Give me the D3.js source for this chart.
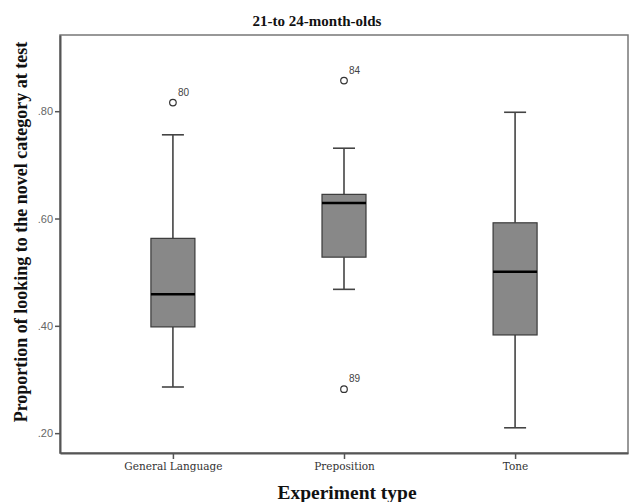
<!DOCTYPE html>
<html>
<head>
<meta charset="utf-8">
<script src="https://cdn.jsdelivr.net/npm/d3@7"></script>
<style>
  body { margin: 0; background: #fff; }
</style>
</head>
<body>
<div id="grafico"></div>
<script>
// values
const categories  = ['General Language', 'Preposition', 'Tone'];
const whiskerLow  = [0.286, 0.468, 0.210];
const q1          = [0.398, 0.528, 0.383];
const medians     = [0.459, 0.629, 0.501];
const q3          = [0.563, 0.645, 0.592];
const whiskerHigh = [0.756, 0.731, 0.798];
const outlierCat  = ['General Language', 'Preposition', 'Preposition'];
const outlierVal  = [0.816, 0.857, 0.282];
const outlierId   = ['80', '84', '89'];
const yTicks      = [0.2, 0.4, 0.6, 0.8];

const margin = { top: 35, left: 60, right: 1, bottom: 49 };
const width  = 629 - margin.left - margin.right;
const height = 502 - margin.top - margin.bottom;

const svg = d3.select('#grafico')
              .append('svg')
              .attr('width', 629)
              .attr('height', 502);

const g = svg.append('g')
             .attr('transform', `translate(${margin.left}, ${margin.top})`);

const xScale = d3.scalePoint()
                 .domain(categories)
                 .range([0, width])
                 .padding(0.66);

const yScale = d3.scaleLinear()
                 .domain([0.163, 0.942])
                 .range([height, 0]);

// frame
g.append('rect')
 .attr('width', width)
 .attr('height', height)
 .attr('fill', 'none')
 .attr('stroke', '#777')
 .attr('stroke-width', 1.5);

const yAxis = g.append('g')
 .call(d3.axisLeft(yScale).tickValues(yTicks).tickSize(5).tickSizeOuter(0).tickPadding(2)
        .tickFormat(d => d3.format('.2f')(d).replace(/^0/, '')));
yAxis.select('.domain').attr('stroke', '#555').attr('stroke-width', 2);
yAxis.selectAll('.tick line').attr('stroke', '#555').attr('stroke-width', 1.5);
yAxis.selectAll('.tick text')
     .attr('fill', '#666')
     .attr('font-family', 'Liberation Sans, Arial, sans-serif')
     .attr('font-size', '11px');

const xAxis = g.append('g')
 .attr('transform', `translate(0, ${height})`)
 .call(d3.axisBottom(xScale).tickSize(6).tickSizeOuter(0).tickPadding(4));
xAxis.select('.domain').attr('stroke', '#555').attr('stroke-width', 2);
xAxis.selectAll('.tick line').attr('stroke', '#555').attr('stroke-width', 1.5);
xAxis.selectAll('.tick text')
     .attr('fill', '#333')
     .attr('font-family', 'DejaVu Serif, serif')
     .attr('font-size', '10.5px');

const boxes = categories.map((c, i) => ({
  cat: c, lo: whiskerLow[i], q1: q1[i], med: medians[i], q3: q3[i], hi: whiskerHigh[i]
}));

const boxW = 44;
const capW = 22;

const bx = g.selectAll('.box')
 .data(boxes)
 .enter()
 .append('g')
 .attr('transform', d => `translate(${xScale(d.cat)}, 0)`);

bx.append('line')
  .attr('y1', d => yScale(d.hi))
  .attr('y2', d => yScale(d.q3))
  .attr('stroke', '#444').attr('stroke-width', 1.6);
bx.append('line')
  .attr('y1', d => yScale(d.q1))
  .attr('y2', d => yScale(d.lo))
  .attr('stroke', '#444').attr('stroke-width', 1.6);
bx.append('line')
  .attr('x1', -capW / 2).attr('x2', capW / 2)
  .attr('y1', d => yScale(d.hi)).attr('y2', d => yScale(d.hi))
  .attr('stroke', '#444').attr('stroke-width', 1.6);
bx.append('line')
  .attr('x1', -capW / 2).attr('x2', capW / 2)
  .attr('y1', d => yScale(d.lo)).attr('y2', d => yScale(d.lo))
  .attr('stroke', '#444').attr('stroke-width', 1.6);
bx.append('rect')
  .attr('x', -boxW / 2)
  .attr('width', boxW)
  .attr('y', d => yScale(d.q3))
  .attr('height', d => yScale(d.q1) - yScale(d.q3))
  .attr('fill', '#888')
  .attr('stroke', '#3a3a3a')
  .attr('stroke-width', 1.2);
bx.append('line')
  .attr('x1', -boxW / 2).attr('x2', boxW / 2)
  .attr('y1', d => yScale(d.med)).attr('y2', d => yScale(d.med))
  .attr('stroke', '#000').attr('stroke-width', 2.5);

const outliers = outlierVal.map((v, i) => ({ cat: outlierCat[i], v: v, id: outlierId[i] }));

g.selectAll('.out')
 .data(outliers)
 .enter()
 .append('circle')
 .attr('cx', d => xScale(d.cat))
 .attr('cy', d => yScale(d.v))
 .attr('r', 3.3)
 .attr('fill', '#fff')
 .attr('stroke', '#333')
 .attr('stroke-width', 1.2);

g.selectAll('.outlbl')
 .data(outliers)
 .enter()
 .append('text')
 .attr('x', d => xScale(d.cat) + 5)
 .attr('y', d => yScale(d.v) - 7)
 .attr('fill', '#444')
 .attr('font-family', 'Liberation Sans, Arial, sans-serif')
 .attr('font-size', '10px')
 .text(d => d.id);

// titles
svg.append('text')
 .attr('x', 317)
 .attr('y', 26)
 .attr('text-anchor', 'middle')
 .attr('font-family', 'Liberation Serif, Times New Roman, serif')
 .attr('font-weight', 'bold')
 .attr('font-size', '15px')
 .attr('fill', '#111')
 .text('21-to 24-month-olds');

svg.append('text')
 .attr('x', 347)
 .attr('y', 499)
 .attr('text-anchor', 'middle')
 .attr('font-family', 'Liberation Serif, Times New Roman, serif')
 .attr('font-weight', 'bold')
 .attr('font-size', '19.5px')
 .attr('fill', '#111')
 .text('Experiment type');

svg.append('text')
 .attr('transform', 'translate(27, 232) rotate(-90)')
 .attr('text-anchor', 'middle')
 .attr('font-family', 'Liberation Serif, Times New Roman, serif')
 .attr('font-weight', 'bold')
 .attr('font-size', '18px')
 .attr('fill', '#111')
 .text('Proportion of looking to the novel category at test');
</script>
</body>
</html>
